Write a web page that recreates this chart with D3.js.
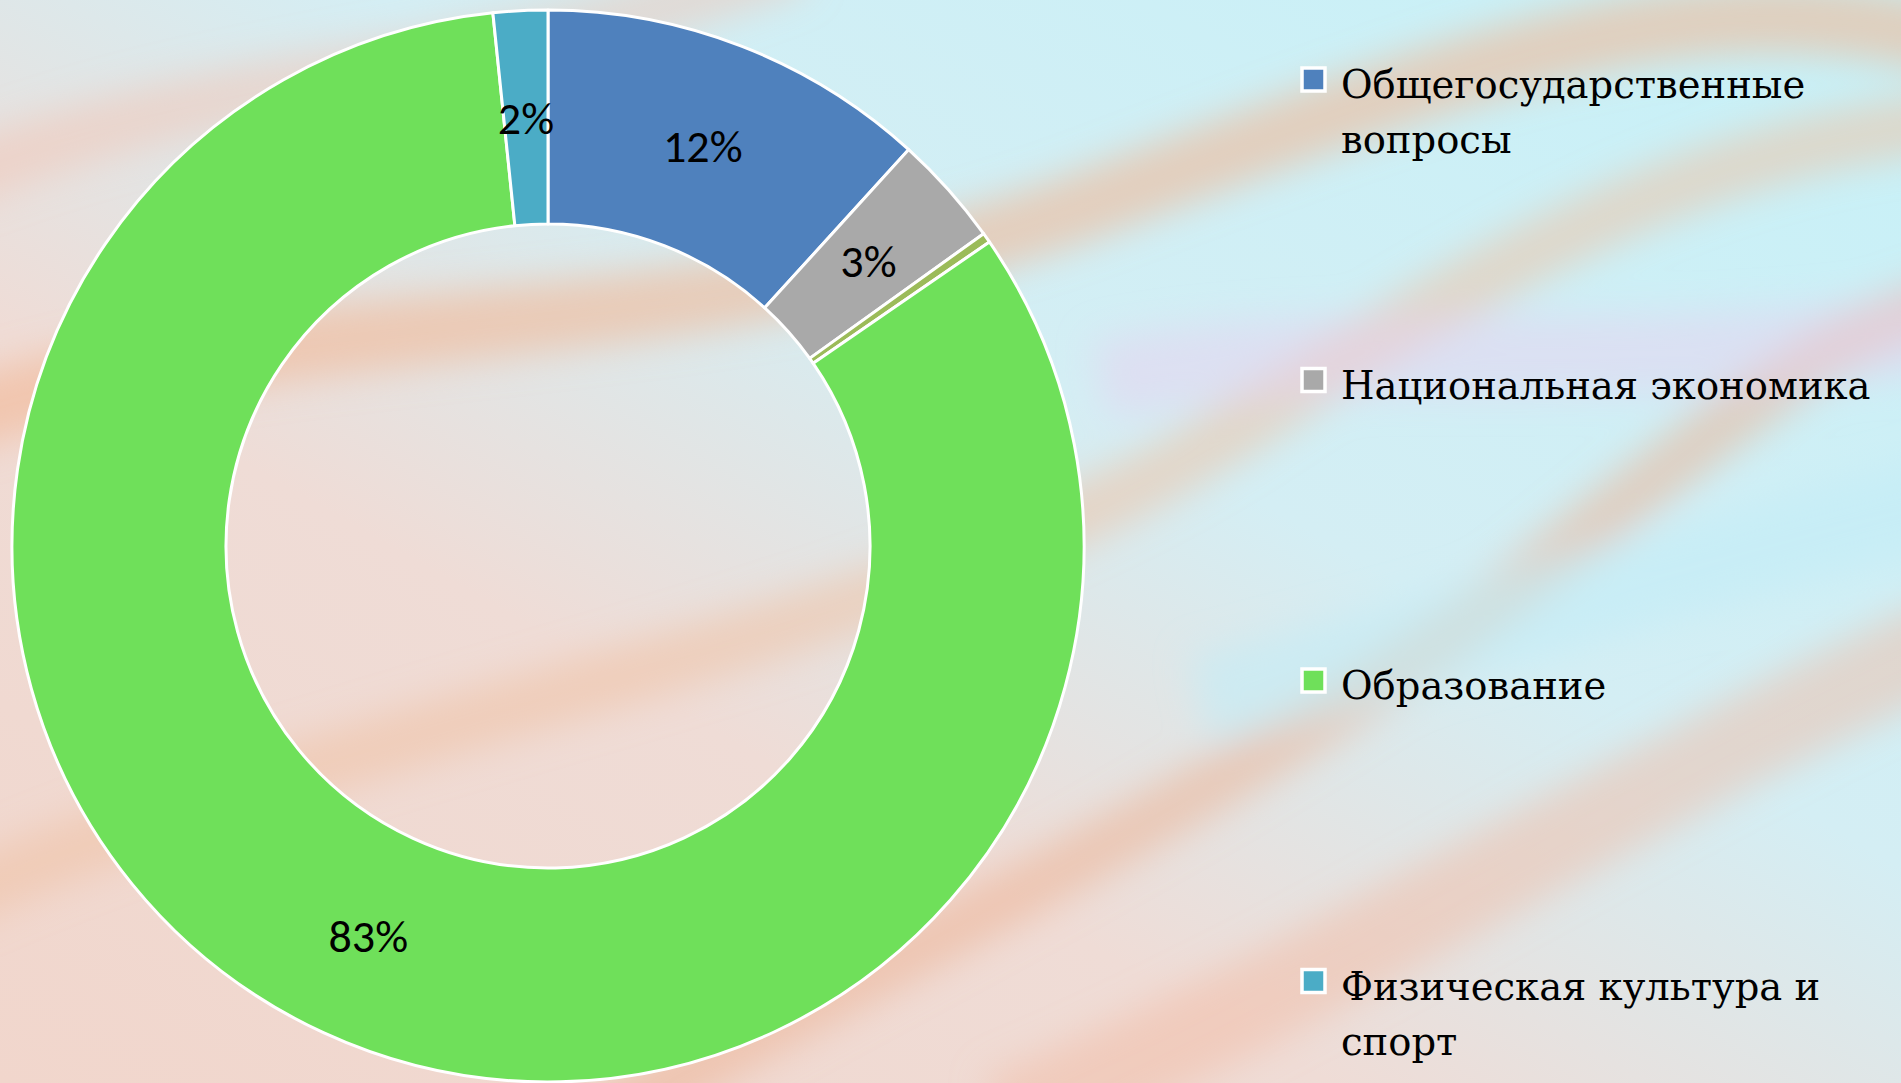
<!DOCTYPE html>
<html>
<head>
<meta charset="utf-8">
<script src="https://cdn.jsdelivr.net/npm/d3@7"></script>
<style>
    html, body { margin: 0; padding: 0; overflow: hidden; }
    svg { display: block; }
</style>
</head>
<body>
<svg id="chart" width="1901" height="1083"></svg>
<script>
// Data (shares in %)
const categories = [
    "Общегосударственные вопросы",
    "Национальная экономика",
    "",                                  // thin slice, no legend entry, no label
    "Образование",
    "Физическая культура и спорт"
];
const values = [11.75, 3.35, 0.3, 82.96, 1.64];
const labels = ["12%", "3%", "", "83%", "2%"];
const colors = ["#4f81bd", "#a9a9a9", "#9bbb59", "#6fe05a", "#4bacc6"];

const svg = d3.select("#chart");
const width = 1901;
const height = 1083;

// Background: soft marbled look
const defs = svg.append("defs");
const bg = defs.append("linearGradient").attr("id", "bg")
    .attr("x1", "0").attr("y1", "1").attr("x2", "1").attr("y2", "0");
bg.append("stop").attr("offset", "0").attr("stop-color", "#f1d6cc");
bg.append("stop").attr("offset", "0.35").attr("stop-color", "#efdcd6");
bg.append("stop").attr("offset", "0.6").attr("stop-color", "#d4eef4");
bg.append("stop").attr("offset", "1").attr("stop-color", "#c6f1f8");
defs.append("filter").attr("id", "blur")
    .append("feGaussianBlur").attr("stdDeviation", 18);

svg.append("rect").attr("width", width).attr("height", height).attr("fill", "url(#bg)");

const streaks = [
    {d: "M-50,420 C300,300 700,350 1100,200 S1700,-20 1950,40", c: "#f3b48f", w: 70, o: 0.55},
    {d: "M-50,900 C400,700 900,650 1250,420 S1750,150 1950,120", c: "#f0c0a0", w: 60, o: 0.5},
    {d: "M600,1120 C900,950 1300,760 1550,560 S1850,330 1950,300", c: "#eeb08f", w: 55, o: 0.5},
    {d: "M1000,1120 C1300,1000 1600,800 1950,640", c: "#f2b7a0", w: 90, o: 0.45},
    {d: "M-50,180 C250,60 500,80 800,-40", c: "#f3c2b0", w: 60, o: 0.45},
    {d: "M1100,380 C1350,330 1600,380 1950,330", c: "#e7d2f0", w: 80, o: 0.5},
    {d: "M1200,700 C1450,640 1700,560 1950,500", c: "#c3ecf6", w: 90, o: 0.6}
];
svg.append("g").attr("filter", "url(#blur)")
    .selectAll("path").data(streaks).enter().append("path")
    .attr("d", d => d.d)
    .attr("fill", "none")
    .attr("stroke", d => d.c)
    .attr("stroke-width", d => d.w)
    .attr("opacity", d => d.o);

// Donut
const center = {x: 548, y: 546};
const outerR = 536;
const innerR = 322;

const data = categories.map((name, i) => ({name, value: values[i], label: labels[i], color: colors[i]}));

const pie = d3.pie().value(d => d.value).sort(null);
const arc = d3.arc().innerRadius(innerR).outerRadius(outerR);
const labelArc = d3.arc().innerRadius((innerR + outerR) / 2).outerRadius((innerR + outerR) / 2);

const g = svg.append("g").attr("transform", `translate(${center.x},${center.y})`);

g.selectAll(".slice")
    .data(pie(data))
    .enter().append("path")
    .attr("class", "slice")
    .attr("d", arc)
    .attr("fill", d => d.data.color)
    .attr("stroke", "#fff")
    .attr("stroke-width", 3)
    .attr("stroke-linejoin", "round");

g.selectAll(".label")
    .data(pie(data).filter(d => d.data.label))
    .enter().append("text")
    .attr("class", "label")
    .attr("transform", d => `translate(${labelArc.centroid(d)})`)
    .attr("text-anchor", "middle")
    .attr("dy", "0.36em")
    .attr("font-family", "Carlito, Lato, sans-serif")
    .attr("font-size", "46px")
    .attr("fill", "#000")
    .text(d => d.data.label);

// Legend
const legendItems = data.filter(d => d.name);
const legendX = 1302;
const textX = 1341;
const firstBaseline = 98;
const itemStep = 300.5;
const lineHeight = 55;
const maxTextWidth = width - textX - 8;

const legend = svg.append("g");
legendItems.forEach((d, i) => {
    const base = firstBaseline + i * itemStep;
    legend.append("rect")
        .attr("x", legendX)
        .attr("y", base - 30)
        .attr("width", 23)
        .attr("height", 23)
        .attr("fill", d.color)
        .attr("stroke", "#fff")
        .attr("stroke-width", 3.5);

    const text = legend.append("text")
        .attr("x", textX)
        .attr("y", base)
        .attr("font-family", "'DejaVu Serif', serif")
        .attr("font-size", "38.5px")
        .attr("fill", "#000");

    // Wrap words to the legend width
    const words = d.name.split(" ");
    let line = [];
    let lineNo = 0;
    let tspan = text.append("tspan").attr("x", textX).attr("y", base);
    words.forEach(w => {
        line.push(w);
        tspan.text(line.join(" "));
        if (tspan.node().getComputedTextLength() > maxTextWidth && line.length > 1) {
            line.pop();
            tspan.text(line.join(" "));
            line = [w];
            lineNo++;
            tspan = text.append("tspan").attr("x", textX).attr("y", base + lineNo * lineHeight).text(w);
        }
    });
});
</script>
</body>
</html>
